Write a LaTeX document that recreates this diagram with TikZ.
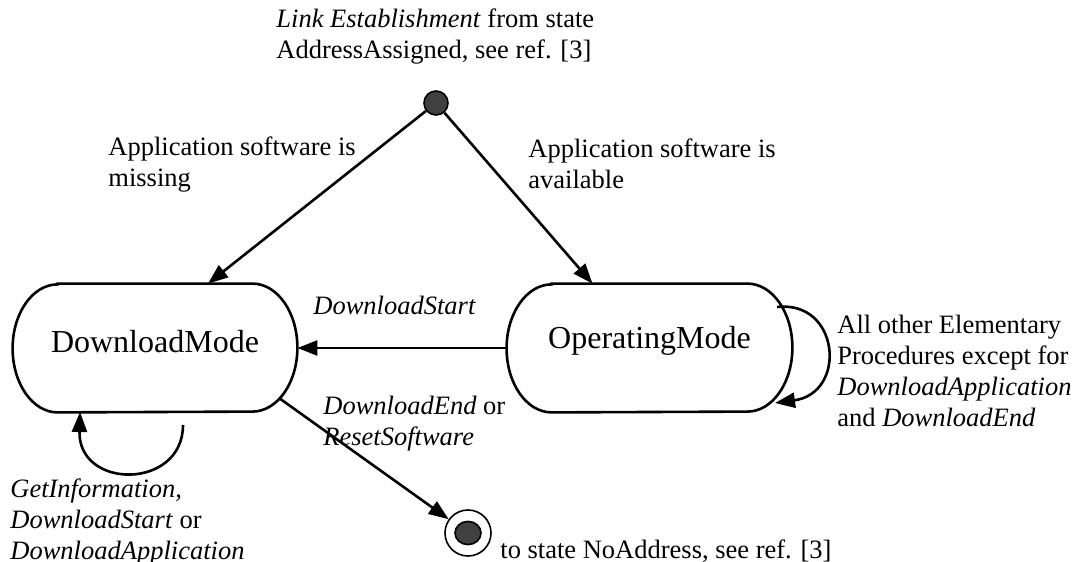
\documentclass[tikz,border=0pt]{standalone}
\usepackage{fontspec}
\setmainfont{Liberation Serif}
\usepackage{tikz}
\usetikzlibrary{arrows.meta,calc,positioning}

\tikzset{
  trans/.style={line width=1.3pt,-{Triangle[length=10pt,width=7.5pt]}},
  stateline/.style={line width=1.3pt},
  lbl/.style={anchor=north west,inner sep=0pt,align=left,font=\fontsize{13.25}{15.5}\selectfont},
  statename/.style={draw=none,inner sep=0pt,text depth=0pt,font=\fontsize{16}{18}\selectfont},
}

\begin{document}
\begin{tikzpicture}[x=0.5pt,y=0.5pt,yscale=-1,xscale=1]
\useasboundingbox (0,0) rectangle (1073,562);

%Shape: State [id:dm] 
\node [statename,text height=4pt,minimum width=142pt,minimum height=64pt] (dm) at (155,348) {DownloadMode};
\draw [stateline] ([xshift=22.5pt]dm.north west) -- ([xshift=-22.5pt]dm.north east) arc[start angle=-90,end angle=90,x radius=22.5pt,y radius=32pt] -- ([xshift=22.5pt]dm.south west) arc[start angle=90,end angle=270,x radius=22.5pt,y radius=32pt] -- cycle ;
%Shape: State [id:om] 
\node [statename,text height=0pt,minimum width=142.5pt,minimum height=64pt] (om) at (649.5,348) {OperatingMode};
\draw [stateline] ([xshift=22.5pt]om.north west) -- ([xshift=-22.5pt]om.north east) arc[start angle=-90,end angle=90,x radius=22.5pt,y radius=32pt] -- ([xshift=22.5pt]om.south west) arc[start angle=90,end angle=270,x radius=22.5pt,y radius=32pt] -- cycle ;

%Shape: Circle [id:init] 
\node [circle,draw,line width=0.8pt,fill={rgb,255:red,64;green,64;blue,64},minimum size=12pt,inner sep=0pt] (init) at (436,103) {};
%Shape: Circle [id:fin] 
\node [circle,draw,line width=0.8pt,minimum size=23pt,inner sep=0pt] (fin) at (468,533) {};
\draw [line width=0.8pt,fill={rgb,255:red,64;green,64;blue,64}] (fin.center) ellipse [x radius=6.5pt,y radius=5.8pt] ;

%Straight Lines [id:init-dm] 
\draw [trans] (init) -- ($(dm.north)+(53,0)$) ;
%Straight Lines [id:init-om] 
\draw [trans] (init) -- ($(om.north)+(-57,0)$) ;
%Straight Lines [id:om-dm] 
\draw [trans] (om.west) -- (dm.east) ;
%Straight Lines [id:dm-fin] 
\draw [trans] ($(dm.center)+(124,50)$) -- (fin) ;
%Curve Lines [id:om-om] 
\draw [trans] ($(om.center)+(127.5,-41)$) .. controls ($(om.center)+(190.5,-48)$) and ($(om.center)+(198,45)$) .. ($(om.center)+(125.5,55)$) ;
%Curve Lines [id:dm-dm] 
\draw [trans] ($(dm.center)+(28,77)$) .. controls ($(dm.center)+(28,142)$) and ($(dm.center)+(-77,142)$) .. ($(dm.center)+(-75,64)$) ;

% Text Node
\node [lbl] (tinit) at (276,8) {\textit{Link Establishment} from state\\AddressAssigned, see ref. [3]};
% Text Node
\node [lbl] (tmiss) at (108,136) {Application software is\\missing};
% Text Node
\node [lbl] (tavail) at (528,138) {Application software is\\available};
% Text Node
\node [lbl] (tstart) at (313,296) {\textit{DownloadStart}};
% Text Node
\node [lbl] (tother) at (837,315) {All other Elementary\\Procedures except for\\\textit{DownloadApplication}\\and \textit{DownloadEnd}};
% Text Node
\node [lbl] (tend) at (323,396) {\textit{DownloadEnd} or\\\textit{ResetSoftware}};
% Text Node
\node [lbl] (tget) at (10,478) {\textit{GetInformation,}\\\textit{DownloadStart} or\\\textit{DownloadApplication}};
% Text Node
\node [lbl] (tfin) at (500,539) {to state NoAddress, see ref. [3]};
\end{tikzpicture}
\end{document}
